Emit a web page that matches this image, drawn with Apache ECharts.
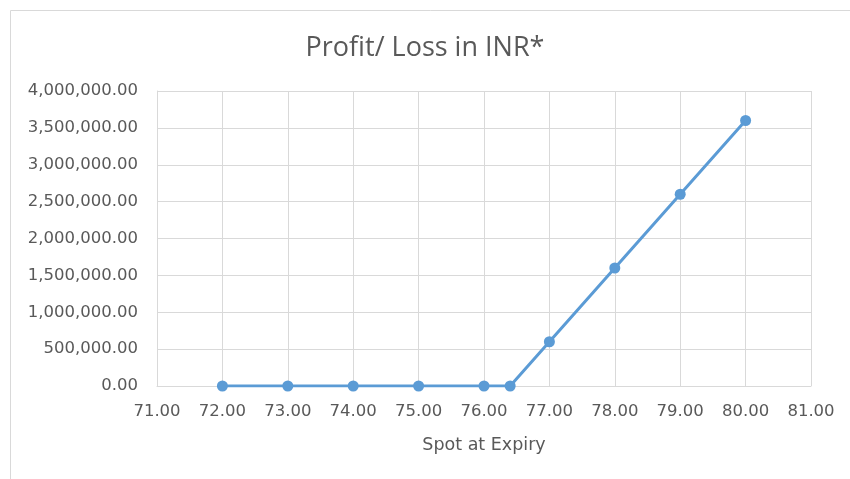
<!DOCTYPE html>
<html><head><meta charset="utf-8">
<script src="https://cdn.jsdelivr.net/npm/echarts@6/dist/echarts.min.js"></script>
<style>html,body{margin:0;padding:0;background:#fff}#c{width:850px;height:479px}</style>
</head><body><div id="c"></div>
<script>
const spot = [72, 73, 74, 75, 76, 76.4, 77, 78, 79, 80];
const profit = [0, 0, 0, 0, 0, 0, 600000, 1600000, 2600000, 3600000];
const titleText = 'Profit/ Loss in INR*';
const xAxisName = 'Spot at Expiry';

const chart = echarts.init(document.getElementById('c'));
const fmt2 = v => Number(v).toLocaleString('en-US', {minimumFractionDigits: 2, maximumFractionDigits: 2});
const txt = '#595959';
const labFont = '"DejaVu Sans", Verdana, sans-serif';
chart.setOption({
  animation: false,
  title: {text: titleText, left: 'center', top: 30,
    textStyle: {fontFamily: '"Open Sans", sans-serif', fontSize: 27, fontWeight: 'normal', color: txt}},
  graphic: [
    {type: 'line', shape: {x1: 10.5, y1: 10.5, x2: 850, y2: 10.5}, style: {stroke: '#d9d9d9', lineWidth: 1}},
    {type: 'line', shape: {x1: 10.5, y1: 10.5, x2: 10.5, y2: 479}, style: {stroke: '#d9d9d9', lineWidth: 1}}
  ],
  grid: {left: 157, right: 39, top: 91, bottom: 93, containLabel: false},
  xAxis: {
    type: 'value', min: 71, max: 81, interval: 1,
    name: xAxisName, nameLocation: 'middle', nameGap: 50,
    nameTextStyle: {fontFamily: labFont, fontSize: 17.5, color: txt},
    axisLine: {show: true, lineStyle: {color: '#d9d9d9'}},
    axisTick: {show: false},
    axisLabel: {formatter: fmt2, fontFamily: labFont, fontSize: 16.5, color: txt, margin: 17},
    splitLine: {show: true, lineStyle: {color: '#d9d9d9'}}
  },
  yAxis: {
    type: 'value', min: 0, max: 4000000, interval: 500000,
    axisLine: {show: true, lineStyle: {color: '#d9d9d9'}},
    axisTick: {show: false},
    axisLabel: {formatter: fmt2, fontFamily: labFont, fontSize: 16.5, color: txt, margin: 19},
    splitLine: {show: true, lineStyle: {color: '#d9d9d9'}}
  },
  series: [{
    type: 'line',
    data: spot.map((x, i) => [x, profit[i]]),
    symbol: 'circle', symbolSize: 11,
    lineStyle: {color: '#5b9bd5', width: 3},
    itemStyle: {color: '#5b9bd5'}
  }]
});
</script></body></html>
